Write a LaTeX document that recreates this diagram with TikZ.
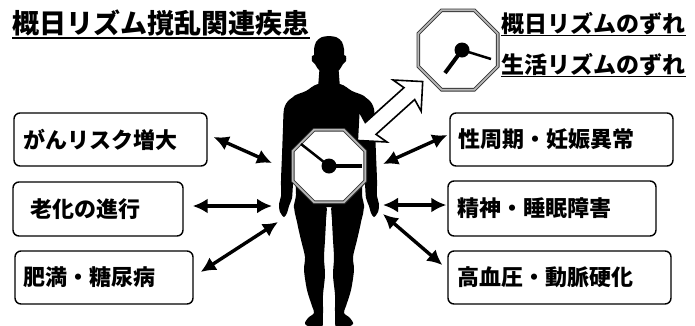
\documentclass[tikz,border=0pt]{standalone}
\usepackage{fontspec}
\newfontfamily\jpfont{Noto Sans CJK JP}
\usetikzlibrary{arrows.meta,calc}

% regular octagon with flat top: #1 = half width, #2 = corner cut
\newcommand{\octpath}[2]{(-#1+#2,-#1) -- (#1-#2,-#1) -- (#1,-#1+#2) -- (#1,#1-#2)
  -- (#1-#2,#1) -- (-#1+#2,#1) -- (-#1,#1-#2) -- (-#1,-#1+#2) -- cycle}

\begin{document}
\begin{tikzpicture}[x=1pt,y=-1pt,
  txt/.style={font=\jpfont\bfseries\fontsize{23}{23}\selectfont, inner sep=0pt},
  box/.style={draw, line width=1.4pt, rounded corners=6pt, align=left, inner ysep=0pt,
    font=\jpfont\bfseries\fontsize{22}{22}\selectfont},
  link/.style={line width=3.4pt, {Latex[length=15pt,width=15pt]}-{Latex[length=15pt,width=15pt]}},
  clockface/.style={fill=white, draw=black!80, line width=0.9pt, double=gray!55, double distance=1.8pt},
  body/.style={fill=black, draw=none},
  hollow/.style={fill=white, draw=black, line width=1.6pt, line join=miter},
]
\useasboundingbox (0,0) rectangle (695,325);

% ---- human silhouette ----
\fill[body] plot[smooth cycle] coordinates {(329,36) (337,37.5) (342,42) (344,49) (344,55) (346,56) (346,61) (343,64) (340,69) (334,74) (329,75) (324,74) (318,69) (315,64) (312,61) (312,56) (314,55) (314,49) (316,42) (321,37.5)};
\fill[body] (320,62) -- (338,62) -- (340,88) -- (318,88) -- cycle;
\fill[body] plot[smooth cycle] coordinates {(318,84) (340,84) (352,91) (364,96) (369,104) (368,125) (366,150) (363,178) (362,195) (364,208) (355,212) (342,209) (329,207) (316,209) (303,212) (294,208) (296,195) (295,178) (292,150) (290,125) (289,104) (294,96) (306,91)};
\fill[body] plot[smooth cycle] coordinates {(360,96) (369,100) (374,109) (375,128) (376,155) (377,180) (377,196) (379,204) (378,212) (374,217) (371,213) (369,206) (366,198) (365,185) (362,160) (361,130) (357,105)};
\fill[body] plot[smooth cycle] coordinates {(298,96) (289,100) (284,109) (283,128) (282,155) (281,180) (281,196) (279,204) (280,212) (284,217) (287,213) (289,206) (292,198) (293,185) (296,160) (297,130) (301,105)};
\fill[body] plot[smooth cycle] coordinates {(332,206) (345,204) (363,206) (361,222) (357,240) (353,257) (354,270) (351,290) (346,306) (344,313) (350,318) (353,324) (345,328) (336,328) (335,312) (335,295) (333,275) (334,258) (333,240) (332,220)};
\fill[body] plot[smooth cycle] coordinates {(326,206) (313,204) (295,206) (297,222) (301,240) (305,257) (304,270) (307,290) (312,306) (314,313) (308,318) (305,324) (313,328) (322,328) (323,312) (323,295) (325,275) (324,258) (325,240) (326,220)};

% ---- hollow double arrow from the body to the shifted clock ----
\begin{scope}[shift={(390,111)}, rotate=42]
  \draw[hollow] (44,0) -- (23,-21) -- (26,-8) -- (-26,-8) -- (-23,-21) -- (-44,0)
    -- (-23,21) -- (-26,8) -- (26,8) -- (23,21) -- cycle;
\end{scope}

% ---- clocks ----
\coordinate (clkTop) at (458,50);
\begin{scope}[shift={(clkTop)}]
  \draw[clockface] \octpath{39.7}{23.25};
\end{scope}
\coordinate (hubTop) at ($(clkTop)+(4,0)$);
\draw[line width=4pt] (hubTop) -- (445,73);
\draw[line width=2.5pt] (hubTop) -- (491,59);
\fill (hubTop) circle (7.5pt);

\coordinate (clkBody) at (329,166);
\begin{scope}[shift={(clkBody)}]
  \draw[clockface] \octpath{36.2}{21.2};
\end{scope}
\draw[line width=4.5pt] (clkBody) -- (362,166);
\draw[line width=2.5pt] (clkBody) -- (301,144);
\fill (clkBody) circle (7.5pt);

% ---- headings ----
\node[txt, font=\jpfont\bfseries\fontsize{27}{27}\selectfont, anchor=base west] (title) at (12,33) {概日リズム撹乱関連疾患};
\draw[line width=2pt] ($(title.base west)+(0,4.5)$) -- ($(title.base east)+(1,4.5)$);

\node[txt, anchor=base west] (shiftA) at (501,32) {概日リズムのずれ};
\draw[line width=1.6pt] ($(shiftA.base west)+(0,3.5)$) -- ($(shiftA.base east)+(1,3.5)$);
\node[txt, anchor=base west] (shiftB) at (501,73) {生活リズムのずれ};
\draw[line width=1.6pt] ($(shiftB.base west)+(0,3.5)$) -- ($(shiftB.base east)+(1,3.5)$);

% ---- disease boxes ----
\node[box, minimum height=53pt, text width=175pt, inner xsep=9pt] (b1) at (110.5,139.5) {がんリスク増大};
\node[box, minimum height=54pt, text width=136pt, inner xsep=17pt] (b2) at (98,209) {老化の進行};
\node[box, minimum height=53pt, text width=162pt, inner xsep=8pt] (b3) at (104,277.5) {肥満・糖尿病};
\node[box, minimum height=53pt, text width=207pt, inner xsep=8pt] (b4) at (561.5,139.5) {性周期・妊娠異常};
\node[box, minimum height=55pt, text width=190pt, inner xsep=9pt] (b5) at (552,208.5) {精神・睡眠障害};
\node[box, minimum height=53pt, text width=205pt, inner xsep=9pt] (b6) at (559.5,277.5) {高血圧・動脈硬化};

% ---- links between body and boxes ----
\coordinate (p1) at (272,163);
\coordinate (p2) at (272,206);
\coordinate (p3) at (278,222);
\coordinate (p4) at (383,164);
\coordinate (p5) at (383,205);
\coordinate (p6) at (383,214);
\draw[link] ($(b1.east)+(6,-2.5)$) -- (p1);
\draw[link] ($(b2.east)+(9,-3)$) -- (p2);
\draw[link] ($(b3.east)+(7,-5.5)$) -- (p3);
\draw[link] ($(b4.west)+(-2,-4.5)$) -- (p4);
\draw[link] ($(b5.west)+(-1,-3.5)$) -- (p5);
\draw[link] ($(b6.west)+(-5,-12.5)$) -- (p6);
\end{tikzpicture}
\end{document}
